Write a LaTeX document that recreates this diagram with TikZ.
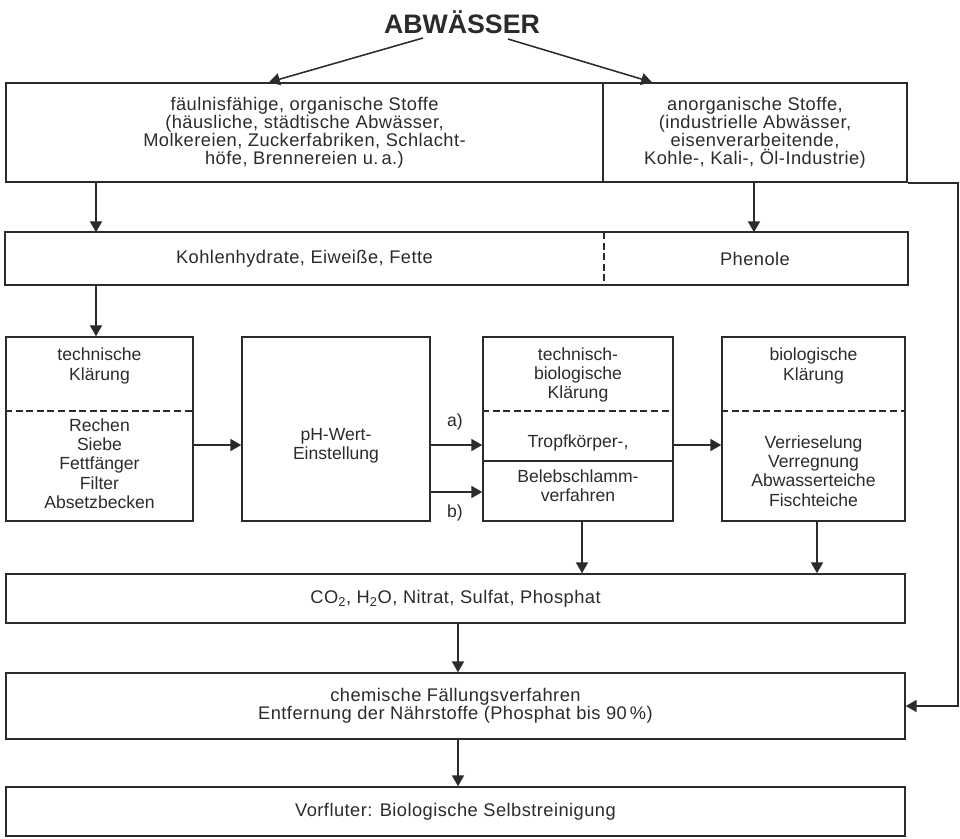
\documentclass[tikz,border=0pt]{standalone}
\usepackage{fontspec}
\setmainfont{Liberation Sans}
\newfontfamily\wideface[LetterSpace=2.5]{Liberation Sans}
\usetikzlibrary{arrows.meta,positioning,calc}
\definecolor{ink}{HTML}{2B2B2B}
\newcommand{\pxu}{0.025cm}

\begin{document}
\begin{tikzpicture}[
  x=0.025cm, y=-0.025cm,
  every node/.style={text=ink, inner sep=0pt},
  box/.style 2 args={draw=ink, line width=1.1pt, minimum width=#1*\pxu, minimum height=#2*\pxu},
  wide/.style={font=\wideface\fontsize{13}{12.8}\selectfont, align=center},
  body/.style={font=\fontsize{12.5}{13.7}\selectfont, align=center},
  arr/.style={draw=ink, line width=1.1pt, -{Triangle[length=0.27cm, width=0.3cm]}},
  sep/.style={draw=ink, line width=1.1pt, dash pattern=on 5pt off 2.5pt}
]
  \useasboundingbox (0,0) rectangle (960,838);

  \node[font=\fontsize{19}{22}\selectfont\bfseries] (title) at (462,22) {ABWÄSSER};

  % Herkunft der Abwässer
  \node[box={597}{99}, wide] (organic) at (304.5,132.5)
    {fäulnisfähige, organische Stoffe\\(häusliche, städtische Abwässer,\\Molkereien, Zuckerfabriken, Schlacht-\\höfe, Brennereien u.\,a.)};
  \node[box={304}{99}, wide] (inorganic) at (755,132.5)
    {anorganische Stoffe,\\(industrielle Abwässer,\\eisenverarbeitende,\\Kohle-, Kali-, Öl-Industrie)};

  % Inhaltsstoffe
  \node[box={597}{51}, draw=none, wide] (sugars) at (304.5,258.5) {Kohlenhydrate, Eiweiße, Fette};
  \node[box={304}{51}, draw=none, wide] (phenols) at (755,258.5) {Phenole};
  \draw[draw=ink, line width=1.1pt] (sugars.north west) rectangle (phenols.south east);
  \draw[sep] (sugars.north east) -- (sugars.south east);

  % Klärstufen
  \node[box={187}{184}] (tech) at (99.5,429) {};
  \node[box={188}{184}] (ph) at (336,429) {};
  \node[box={190}{184}] (techbio) at (578,429) {};
  \node[box={183}{184}] (bio) at (813.5,429) {};
  \foreach \b in {tech,techbio,bio}
    \draw[sep] (\b.west |- 0,411) -- (\b.east |- 0,411);
  \draw[draw=ink, line width=1.1pt] (techbio.west |- 0,461) -- (techbio.east |- 0,461);

  \node[body] (techHead) at (99.5,366) {technische\\Klärung};
  \node[body] (techList) at (99.5,463.5) {Rechen\\Siebe\\Fettfänger\\Filter\\Absetzbecken};
  \node[body] (phText) at (336,446) {pH-Wert-\\Einstellung};
  \node[body] (tbHead) at (578,375) {technisch-\\biologische\\Klärung};
  \node[body] (trickle) at (578,443) {Tropfkörper-,};
  \node[body] (sludge) at (578,486) {Belebschlamm-\\verfahren};
  \node[body] (bioHead) at (813.5,366) {biologische\\Klärung};
  \node[body] (bioList) at (813.5,471) {Verrieselung\\Verregnung\\Abwasserteiche\\Fischteiche};
  \node[body] (optA) at (455,422) {a)};
  \node[body] (optB) at (455,513) {b)};

  % Endprodukte und Nachbehandlung
  \node[box={899}{49}, wide] (products) at (455.5,598.5)
    {CO\textsubscript{2}, H\textsubscript{2}O, Nitrat, Sulfat, Phosphat};
  \node[box={899}{66}, wide] (precip) at (455.5,706)
    {chemische Fällungsverfahren\\Entfernung der Nährstoffe (Phosphat bis 90\,\%)};
  \node[box={899}{49}, wide] (river) at (455.5,811.5) {Vorfluter: Biologische Selbstreinigung};

  % Pfeile
  \coordinate (forkL) at (423,38);
  \coordinate (forkR) at (508,39);
  \draw[arr] (forkL) -- (organic.north -| 269,0);
  \draw[arr] (forkR) -- (inorganic.north -| 652,0);

  \draw[arr] (organic.south -| 96,0) -- (sugars.north -| 96,0);
  \draw[arr] (inorganic.south -| 754,0) -- (phenols.north -| 754,0);
  \draw[arr] (sugars.south -| 96,0) -- (tech.north -| 96,0);

  \draw[arr] (tech.east |- 0,445) -- (ph.west |- 0,445);
  \draw[arr] (ph.east |- 0,445) -- (techbio.west |- 0,445);
  \draw[arr] (ph.east |- 0,492) -- (techbio.west |- 0,492);
  \draw[arr] (techbio.east |- 0,445) -- (bio.west |- 0,445);

  \draw[arr] (techbio.south -| 582,0) -- (products.north -| 582,0);
  \draw[arr] (bio.south -| 817,0) -- (products.north -| 817,0);
  \draw[arr] (products.south -| 458,0) -- (precip.north -| 458,0);
  \draw[arr] (precip.south -| 458,0) -- (river.north -| 458,0);

  % anorganische Stoffe direkt zur Fällung
  \coordinate (rail) at (958,0);
  \draw[arr] (inorganic.south east) -- (rail |- inorganic.south east)
    -- (rail |- precip.east) -- (precip.east);
\end{tikzpicture}
\end{document}
